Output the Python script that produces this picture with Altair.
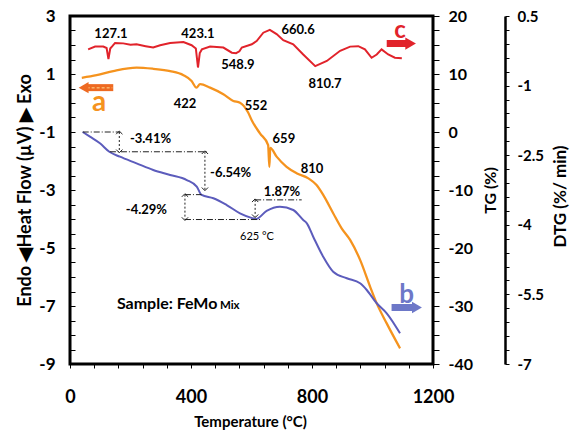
import altair as alt
import pandas as pd

FONT = "Lato"
RED = "#e1232b"
ORANGE = "#f5931e"
BLUE = "#5c5cbc"
ARROW_BLUE = "#6d78c8"
ARROW_ORANGE = "#ee6a22"

# ---- DTG trace (red, right outer axis, %/min) ----
dtg_t = [60, 83, 110, 121, 127.1, 133, 140, 149, 176, 200, 220, 250, 275, 298, 331,
         375, 402, 416, 423.1, 429, 436, 463, 507, 535, 548.9, 560, 568, 601, 617, 639,
         660.6, 683, 705, 738, 771, 810.7, 849, 893, 926, 953, 975, 997, 1014, 1030,
         1052, 1074, 1097]
dtg_v = [-0.22, -0.16, -0.16, -0.19, -0.43, -0.20, -0.15, -0.08, -0.09, -0.12, -0.11,
         -0.15, -0.18, -0.13, -0.08, -0.06, -0.13, -0.20, -0.61, -0.30, -0.22, -0.16,
         -0.18, -0.29, -0.30, -0.26, -0.18, -0.11, -0.04, 0.14, 0.20, 0.11, -0.02, -0.11,
         -0.33, -0.58, -0.47, -0.25, -0.16, -0.15, -0.22, -0.40, -0.33, -0.22, -0.33,
         -0.40, -0.41]

# ---- Heat flow trace (orange, left axis, µV) ----
hf_t = [39, 88, 143, 220, 275, 331, 375, 402, 418, 430, 463, 507, 540, 562, 588, 602,
        628, 655, 659, 662, 683, 716, 749, 788, 815, 837, 870, 898, 926, 959, 992, 1014,
        1047, 1091]
hf_v = [0.87, 0.96, 1.10, 1.22, 1.18, 1.10, 0.96, 0.76, 0.53, 0.65, 0.53, 0.30, 0.07,
        0.01, -0.31, -0.62, -1.05, -1.45, -2.20, -1.55, -1.85, -2.20, -2.42, -2.60,
        -2.83, -3.17, -3.80, -4.32, -4.72, -5.41, -6.33, -6.91, -7.60, -8.46]

# ---- TG trace (blue, right inner axis, %) ----
tg_t = [42, 66, 99, 130, 165, 220, 275, 331, 386, 419, 435, 474, 518, 562, 600, 615,
        650, 694, 738, 771, 783, 804, 837, 870, 915, 959, 981, 1014, 1047, 1091]
tg_v = [0, -0.81, -1.95, -3.41, -4.26, -5.40, -6.55, -7.41, -8.28, -9.43, -10.86,
        -11.43, -12.59, -14.02, -14.8, -15.0, -13.6, -12.88, -13.45, -15.17, -15.74,
        -18.05, -21.5, -24.09, -25.22, -26.09, -27.24, -29.53, -31.26, -34.71]

# ---- peak labels ----
dtg_lbl_txt = ["127.1", "423.1", "548.9", "660.6", "810.7"]
dtg_lbl_t = [135.5, 423, 555, 754, 843]
dtg_lbl_v = [0.106, 0.106, -0.563, 0.198, -0.972]

hf_lbl_txt = ["422", "552", "659", "810"]
hf_lbl_t = [380, 615, 707, 800]
hf_lbl_v = [-0.045, -0.103, -1.252, -2.286]

# ---- mass-loss steps on the TG curve ----
step_lvl_v = [0, -3.41, -10.8, -15.09, -11.7]
step_lvl_t1 = [42, 132, 380, 380, 612]
step_lvl_t2 = [165, 452, 435, 628, 766]

step_arrow_t = [163, 446, 380, 612]
step_arrow_top = [0, -3.41, -10.8, -11.7]
step_arrow_bot = [-3.41, -9.95, -15.09, -14.6]

step_left_txt = ["-3.41%", "-6.54%"]
step_left_t = [198, 463]
step_left_v = [-1.2, -7.02]

# ---- axis tick sets ----
x_labels = [0, 400, 800, 1200]
x_minor = [0, 80, 160, 240, 320, 400, 480, 560, 640, 720, 800, 880, 960, 1040, 1120, 1200]
hf_labels = [-9, -7, -5, -3, -1, 1, 3]
hf_minor = [-9, -8.5, -8, -7.5, -7, -6.5, -6, -5.5, -5, -4.5, -4, -3.5, -3, -2.5, -2,
            -1.5, -1, -0.5, 0, 0.5, 1, 1.5, 2, 2.5, 3]
tg_labels = [-40, -30, -20, -10, 0, 10, 20]
tg_minor = [-40, -37.5, -35, -32.5, -30, -27.5, -25, -22.5, -20, -17.5, -15, -12.5, -10,
            -7.5, -5, -2.5, 0, 2.5, 5, 7.5, 10, 12.5, 15, 17.5, 20]
dtg_labels = [0.5, -1, -2.5, -4, -5.5, -7]
dtg_minor = [0.5, 0.2, -0.1, -0.4, -0.7, -1, -1.3, -1.6, -1.9, -2.2, -2.5, -2.8, -3.1,
             -3.4, -3.7, -4, -4.3, -4.6, -4.9, -5.2, -5.5, -5.8, -6.1, -6.4, -6.7, -7]

x_scale = alt.Scale(domain=[0, 1200], nice=False)
hf_scale = alt.Scale(domain=[-9, 3], nice=False, zero=False)
tg_scale = alt.Scale(domain=[-40, 20], nice=False, zero=False)
dtg_scale = alt.Scale(domain=[-7, 0.5], nice=False, zero=False)

X_PLAIN = alt.X("t:Q", scale=x_scale, axis=None)

LABEL_STYLE = dict(labelFont=FONT, labelFontWeight="bold", labelColor="black",
                   labelFlush=False, labelOverlap=False)
TITLE_STYLE = dict(titleFont=FONT, titleFontWeight="bold", titleColor="black",
                   titleBaseline="middle")


def tick_axis(orient, values, size, offset=0, domain=False):
    """Axis that draws tick marks only."""
    return alt.Axis(orient=orient, values=values, tickSize=size, tickWidth=1,
                    tickColor="black", labels=False, domain=domain, domainColor="black",
                    domainWidth=2.5, grid=False, title=None, offset=offset)


def ycol(field, scale, axis=None):
    return alt.Y(f"{field}:Q", scale=scale, axis=axis)


def text_layer(df, scale, axis=None, **kw):
    style = dict(font=FONT, fontWeight="bold", fontSize=13, color="black")
    style.update(kw)
    return alt.Chart(df).mark_text(**style).encode(
        x=X_PLAIN, y=ycol("v", scale, axis), text="txt:N"
    )


def block_arrow(t1, t2, v, tip_t, scale, color, shape, size):
    body = alt.Chart(pd.DataFrame({"t1": [t1], "t2": [t2], "v": [v]})).mark_rule(
        color=color, strokeWidth=7
    ).encode(x=alt.X("t1:Q", scale=x_scale, axis=None), x2="t2:Q", y=ycol("v", scale))
    head = alt.Chart(pd.DataFrame({"t": [tip_t], "v": [v]})).mark_point(
        shape=shape, filled=True, color=color, opacity=1, size=size
    ).encode(x=X_PLAIN, y=ycol("v", scale))
    return body, head


# ================= heat-flow group (left axis) =================
hf_df = pd.DataFrame({"t": hf_t, "v": hf_v})
hf_line = alt.Chart(hf_df).mark_line(color=ORANGE, strokeWidth=2.3, interpolate="monotone").encode(
    x=alt.X(
        "t:Q", scale=x_scale,
        axis=alt.Axis(
            orient="bottom", values=x_labels, format="d", title="Temperature (°C)",
            domain=False, grid=False, ticks=False, labelFontSize=18, labelPadding=24,
            titleFontSize=15, titleX=180, titleY=57, **LABEL_STYLE, **TITLE_STYLE,
        ),
    ),
    y=ycol("v", hf_scale, alt.Axis(
        orient="left", values=hf_labels, format="d", title="Endo ◀Heat Flow (µV) ▶ Exo",
        domain=False, grid=False, ticks=False, labelPadding=15, labelFontSize=17,
        titleFontSize=18, titleX=-45, titleY=174, titleAngle=270,
        **LABEL_STYLE, **TITLE_STYLE,
    )),
)

hf_labels_layer = text_layer(
    pd.DataFrame({"t": hf_lbl_t, "v": hf_lbl_v, "txt": hf_lbl_txt}), hf_scale,
    axis=tick_axis("left", hf_minor, 5, offset=-5),
)
a_body, a_head = block_arrow(52, 143, 0.53, 45, hf_scale, ARROW_ORANGE, "triangle-left", 130)
a_dash = alt.Chart(pd.DataFrame({"t1": [55], "t2": [140], "v": [0.53]})).mark_rule(
    color="#f9b36a", strokeWidth=1.5, strokeDash=[3, 2]
).encode(x=alt.X("t1:Q", scale=x_scale, axis=None), x2="t2:Q", y=ycol("v", hf_scale))
a_letter = text_layer(pd.DataFrame({"t": [96], "v": [0.01], "txt": ["a"]}), hf_scale,
                      color=ORANGE, fontSize=28)
sample_txt = text_layer(pd.DataFrame({"t": [155], "v": [-6.93], "txt": ["Sample: FeMo"]}),
                        hf_scale, align="left", fontSize=16)
sample_sub = text_layer(pd.DataFrame({"t": [155], "v": [-6.93], "txt": ["Mix"]}),
                        hf_scale, align="left", fontSize=11.5, dx=103, dy=2)

hf_group = alt.layer(
    hf_line, hf_labels_layer, a_body, a_dash, a_head, a_letter, sample_txt, sample_sub,
).resolve_axis(x="independent", y="independent")

# ================= TG group (inner right axis) =================
tg_df = pd.DataFrame({"t": tg_t, "v": tg_v})
tg_line = alt.Chart(tg_df).mark_line(color=BLUE, strokeWidth=2, interpolate="monotone").encode(
    x=alt.X("t:Q", scale=x_scale, axis=tick_axis("bottom", x_minor, 4)),
    y=ycol("v", tg_scale, tick_axis("right", tg_minor, 6)),
)

lvl_df = pd.DataFrame({"t1": step_lvl_t1, "t2": step_lvl_t2, "v": step_lvl_v})
step_levels = alt.Chart(lvl_df).mark_rule(
    color="#222222", strokeWidth=1, strokeDash=[6, 2, 1, 2]
).encode(
    x=alt.X("t1:Q", scale=x_scale, axis=None), x2="t2:Q",
    y=ycol("v", tg_scale, alt.Axis(
        orient="right", values=tg_labels, format="d", title="TG (%)", domain=False,
        grid=False, ticks=False, labelPadding=15, labelFontSize=16, titleFontSize=16,
        titleX=57, titleY=174, titleAngle=270, **LABEL_STYLE, **TITLE_STYLE,
    )),
)

arr_df = pd.DataFrame({"t": step_arrow_t, "top": step_arrow_top, "bot": step_arrow_bot})
step_arrows = alt.Chart(arr_df).mark_rule(
    color="#222222", strokeWidth=1, strokeDash=[2, 2]
).encode(x=X_PLAIN, y=ycol("top", tg_scale), y2="bot:Q")
heads_up = alt.Chart(arr_df).mark_point(
    shape="M-1,0.7L0,-0.3L1,0.7", filled=False, color="#222222", size=40, strokeWidth=1,
    opacity=1,
).encode(x=X_PLAIN, y=ycol("top", tg_scale))
heads_down = alt.Chart(arr_df).mark_point(
    shape="M-1,-0.7L0,0.3L1,-0.7", filled=False, color="#222222", size=40, strokeWidth=1,
    opacity=1,
).encode(x=X_PLAIN, y=ycol("bot", tg_scale))

step_left = text_layer(
    pd.DataFrame({"t": step_left_t, "v": step_left_v, "txt": step_left_txt}), tg_scale,
    align="left",
)
step_right = text_layer(pd.DataFrame({"t": [320.7], "v": [-13.45], "txt": ["-4.29%"]}),
                        tg_scale, align="right")
step_gain = text_layer(pd.DataFrame({"t": [701], "v": [-10.29], "txt": ["1.87%"]}), tg_scale)
min_temp = text_layer(pd.DataFrame({"t": [618], "v": [-18.16], "txt": ["625 °C"]}), tg_scale,
                      fontSize=11, fontWeight="normal")
b_body, b_head = block_arrow(1063, 1140, -30.26, 1147, tg_scale, ARROW_BLUE, "triangle-right", 130)
b_letter = text_layer(pd.DataFrame({"t": [1113], "v": [-28.1], "txt": ["b"]}), tg_scale,
                      color=ARROW_BLUE, fontSize=26)

tg_group = alt.layer(
    tg_line, step_levels, step_arrows, heads_up, heads_down, step_left, step_right,
    step_gain, min_temp, b_body, b_head, b_letter,
).resolve_axis(x="independent", y="independent")

# ================= DTG group (outer right axis) =================
dtg_df = pd.DataFrame({"t": dtg_t, "v": dtg_v})
dtg_line = alt.Chart(dtg_df).mark_line(color=RED, strokeWidth=2).encode(
    x=X_PLAIN,
    y=ycol("v", dtg_scale, tick_axis("right", dtg_minor, 4, offset=72, domain=True)),
)
dtg_peak_labels = text_layer(
    pd.DataFrame({"t": dtg_lbl_t, "v": dtg_lbl_v, "txt": dtg_lbl_txt}), dtg_scale,
    axis=alt.Axis(
        orient="right", offset=72, values=dtg_labels, format=".1~f", formatType="number",
        title="DTG (%/ min)", domain=False, grid=False, ticks=False, labelPadding=12,
        labelFontSize=15, titleFontSize=17, titleX=55, titleY=180, titleAngle=270,
        **LABEL_STYLE, **TITLE_STYLE,
    ),
)
c_body, c_head = block_arrow(1047, 1120, -0.093, 1126, dtg_scale, RED, "triangle-right", 150)
c_letter = text_layer(pd.DataFrame({"t": [1091], "v": [0.177], "txt": ["c"]}), dtg_scale,
                      color=RED, fontSize=24)

dtg_group = alt.layer(
    dtg_line, dtg_peak_labels, c_body, c_head, c_letter
).resolve_axis(x="independent", y="independent")

chart = (
    alt.layer(hf_group, tg_group, dtg_group)
    .resolve_scale(y="independent")
    .resolve_axis(x="independent")
    .properties(
        width=363, height=348,
        padding={"left": 70, "top": 16, "right": 139, "bottom": 69},
        autosize=alt.AutoSizeParams(type="none"),
        background="white",
    )
    .configure(locale=alt.Locale(number=alt.NumberLocale(
        decimal=".", thousands=",", grouping=[3], currency=["", ""], minus="-"
    )))
    .configure_view(stroke="black", strokeWidth=3)
)

chart.save("out.html", embed_options={"renderer": "svg", "actions": False})
